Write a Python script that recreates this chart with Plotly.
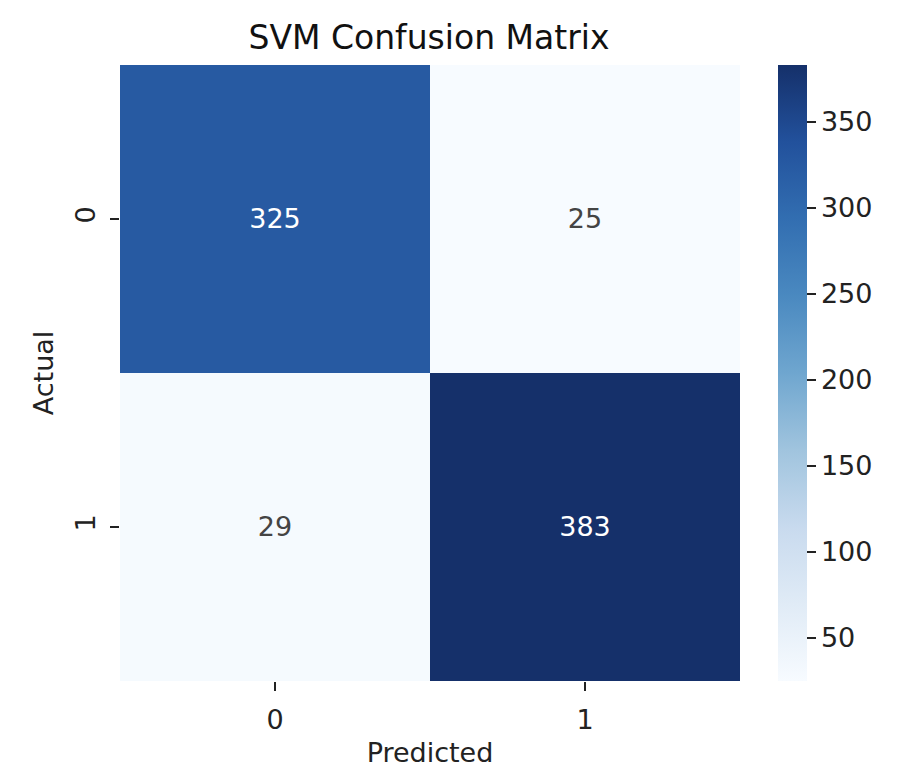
import plotly.graph_objects as go

# confusion matrix values
actual_labels = ["0", "1"]
predicted_labels = ["0", "1"]
counts = [[325, 25],
          [29, 383]]
colorbar_ticks = [50, 100, 150, 200, 250, 300, 350]

# matplotlib "Blues", nudged toward the slightly muted tones of the reference
blues = [
    [0.0, "#f7fbff"], [0.125, "#e0ebf6"], [0.25, "#c8daee"],
    [0.375, "#a0c4de"], [0.5, "#6fa6cf"], [0.625, "#4a89c0"],
    [0.75, "#326eb1"], [0.875, "#22519c"], [1.0, "#15306a"],
]

fig = go.Figure(go.Heatmap(
    z=counts,
    x=predicted_labels,
    y=actual_labels,
    colorscale=blues,
    texttemplate="%{z}",
    textfont=dict(size=27),
    colorbar=dict(
        thickness=29, len=1, lenmode="fraction",
        x=1.061, xanchor="left", y=0.5, yanchor="middle",
        xpad=0, ypad=0, outlinewidth=0,
        tickvals=colorbar_ticks,
        ticks="outside", ticklen=9, tickwidth=2, tickcolor="#222",
        tickfont=dict(size=27, color="#222"),
    ),
))

# the page body adds an 8px offset, so margins are shifted to compensate
fig.update_layout(
    width=912, height=784,
    paper_bgcolor="white", plot_bgcolor="white",
    font=dict(family="DejaVu Sans", color="#222"),
    margin=dict(l=112, r=180, t=57, b=111),
    title=dict(text="SVM Confusion Matrix", x=0.4616, xanchor="center",
               y=0.963, yanchor="middle", font=dict(size=33, color="#111")),
)
fig.update_xaxes(
    title=dict(text="Predicted", font=dict(size=27), standoff=8),
    ticks="outside", ticklen=9, tickwidth=2, tickcolor="#222",
    tickfont=dict(size=27), ticklabelstandoff=6,
    showgrid=False, zeroline=False, showline=False,
)
fig.update_yaxes(
    title=dict(text="Actual", font=dict(size=27), standoff=8),
    autorange="reversed", tickangle=-90,
    ticks="outside", ticklen=9, tickwidth=2, tickcolor="#222",
    tickfont=dict(size=27), ticklabelstandoff=4,
    showgrid=False, zeroline=False, showline=False,
)

fig.write_html("out.html")
